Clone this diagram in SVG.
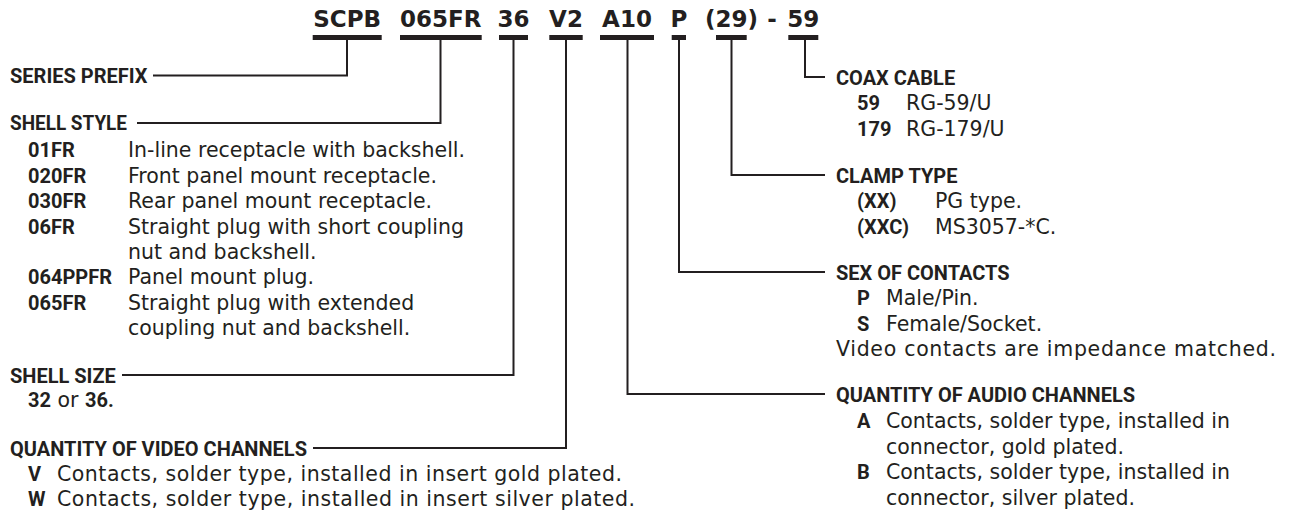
<svg xmlns="http://www.w3.org/2000/svg" width="1310" height="515" viewBox="0 0 1310 515">
<style>
text{fill:#231f20;}
.t{font-family:"DejaVu Sans","Liberation Sans",sans-serif;font-weight:bold;font-size:23px;text-anchor:middle;}
.h{font-family:Roboto,"Liberation Sans",sans-serif;font-weight:bold;font-size:20px;}
.c{font-family:Roboto,"Liberation Sans",sans-serif;font-weight:bold;font-size:20px;}
.b{font-family:"DejaVu Sans","Liberation Sans",sans-serif;font-size:20.5px;}
.bar{stroke:#231f20;stroke-width:5;}
.ln{stroke:#231f20;stroke-width:2;fill:none;stroke-linejoin:miter;}
</style>
<rect width="1310" height="515" fill="#ffffff"/>
<g id="title">
<text class="t" x="347.2" y="27">SCPB</text>
<text class="t" x="440.8" y="27">065FR</text>
<text class="t" x="513.5" y="27">36</text>
<text class="t" x="566" y="27">V2</text>
<text class="t" x="627" y="27">A10</text>
<text class="t" x="679" y="27">P</text>
<text class="t" x="731.5" y="27">(29)</text>
<text class="t" x="772" y="27">-</text>
<text class="t" x="803.3" y="27">59</text>
<line class="bar" x1="312.7" y1="37.5" x2="381.7" y2="37.5"/>
<line class="bar" x1="400" y1="37.5" x2="481.7" y2="37.5"/>
<line class="bar" x1="499" y1="37.5" x2="528" y2="37.5"/>
<line class="bar" x1="549.3" y1="37.5" x2="582.7" y2="37.5"/>
<line class="bar" x1="600" y1="37.5" x2="654" y2="37.5"/>
<line class="bar" x1="671.7" y1="37.5" x2="686" y2="37.5"/>
<line class="bar" x1="716" y1="37.5" x2="746.7" y2="37.5"/>
<line class="bar" x1="788.3" y1="37.5" x2="818.3" y2="37.5"/>
</g>
<g id="connectors">
<path class="ln" d="M347,40 V75.5 H153"/>
<path class="ln" d="M440.5,40 V123 H137"/>
<path class="ln" d="M513.5,40 V375 H122"/>
<path class="ln" d="M566,40 V448 H313"/>
<path class="ln" d="M627.5,40 V394 H825"/>
<path class="ln" d="M679,40 V272 H825"/>
<path class="ln" d="M731.5,40 V175 H825"/>
<path class="ln" d="M805,40 V77 H825"/>
</g>
<g id="series-prefix">
<text class="h" x="10" y="82.5">SERIES PREFIX</text>
</g>
<g id="shell-style">
<text class="h" x="10" y="130" textLength="117" lengthAdjust="spacingAndGlyphs">SHELL STYLE</text>
<text class="c" x="28" y="157">01FR</text><text class="b" x="128" y="157">In-line receptacle with backshell.</text>
<text class="c" x="28" y="182.5">020FR</text><text class="b" x="128" y="182.5">Front panel mount receptacle.</text>
<text class="c" x="28" y="208">030FR</text><text class="b" x="128" y="208">Rear panel mount receptacle.</text>
<text class="c" x="28" y="233.5">06FR</text><text class="b" x="128" y="233.5">Straight plug with short coupling</text>
<text class="b" x="128" y="258.5">nut and backshell.</text>
<text class="c" x="28" y="284">064PPFR</text><text class="b" x="128" y="284">Panel mount plug.</text>
<text class="c" x="28" y="309.5">065FR</text><text class="b" x="128" y="309.5">Straight plug with extended</text>
<text class="b" x="128" y="335">coupling nut and backshell.</text>
</g>
<g id="shell-size">
<text class="h" x="10" y="382.5">SHELL SIZE</text>
<text x="28" y="407"><tspan class="c">32</tspan><tspan class="b"> or </tspan><tspan class="c">36.</tspan></text>
</g>
<g id="video-channels">
<text class="h" x="10" y="455.5">QUANTITY OF VIDEO CHANNELS</text>
<text class="c" x="28" y="480.5">V</text><text class="b" x="57" y="480.5" textLength="565">Contacts, solder type, installed in insert gold plated.</text>
<text class="c" x="28" y="506">W</text><text class="b" x="57" y="506" textLength="578">Contacts, solder type, installed in insert silver plated.</text>
</g>
<g id="coax-cable">
<text class="h" x="836" y="84.5">COAX CABLE</text>
<text class="c" x="857" y="110">59</text><text class="b" x="906" y="110">RG-59/U</text>
<text class="c" x="857" y="135.5">179</text><text class="b" x="906" y="135.5">RG-179/U</text>
</g>
<g id="clamp-type">
<text class="h" x="836" y="182.5">CLAMP TYPE</text>
<text class="c" x="857" y="208">(XX)</text><text class="b" x="935" y="208">PG type.</text>
<text class="c" x="857" y="233.5">(XXC)</text><text class="b" x="935" y="233.5">MS3057-*C.</text>
</g>
<g id="sex-of-contacts">
<text class="h" x="836" y="279.5">SEX OF CONTACTS</text>
<text class="c" x="857" y="305">P</text><text class="b" x="886" y="305">Male/Pin.</text>
<text class="c" x="857" y="330.5">S</text><text class="b" x="886" y="330.5">Female/Socket.</text>
<text class="b" x="836" y="356" textLength="440">Video contacts are impedance matched.</text>
</g>
<g id="audio-channels">
<text class="h" x="836" y="401.5">QUANTITY OF AUDIO CHANNELS</text>
<text class="c" x="857" y="428">A</text><text class="b" x="886" y="428">Contacts, solder type, installed in</text>
<text class="b" x="886" y="453.5">connector, gold plated.</text>
<text class="c" x="857" y="479">B</text><text class="b" x="886" y="479">Contacts, solder type, installed in</text>
<text class="b" x="886" y="504.5">connector, silver plated.</text>
</g>
</svg>
